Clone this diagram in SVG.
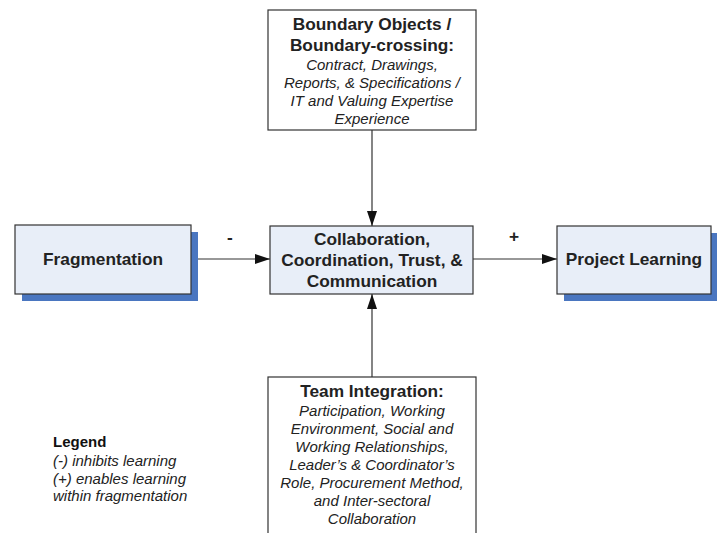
<svg xmlns="http://www.w3.org/2000/svg" width="720" height="533" viewBox="0 0 720 533">
<defs>
<marker id="ah" markerWidth="15" markerHeight="10" refX="15" refY="5" orient="auto" markerUnits="userSpaceOnUse">
<path d="M0,0 L15,5 L0,10 Z" fill="#111"/>
</marker>
<style>
.box{fill:#fff;stroke:#333;stroke-width:1.2}
.bluebox{fill:#e8eef8;stroke:#333;stroke-width:1.2}
.shadow{fill:#4a76c0}
.b{font-family:"Liberation Sans",Arial,sans-serif;font-weight:bold;font-size:17.3px;fill:#222;text-anchor:middle}
.i{font-family:"Liberation Sans",Arial,sans-serif;font-style:italic;font-size:15px;fill:#222;text-anchor:middle}
.lb{font-family:"Liberation Sans",Arial,sans-serif;font-weight:bold;font-size:15px;fill:#111}
.li{font-family:"Liberation Sans",Arial,sans-serif;font-style:italic;font-size:15px;fill:#222}
.c{stroke:#333;stroke-width:1.2;fill:none}
</style>
</defs>
<rect width="720" height="533" fill="#fff"/>
<g id="connectors">
<line class="c" x1="191" y1="259" x2="270" y2="259" marker-end="url(#ah)"/>
<line class="c" x1="473" y1="259" x2="557" y2="259" marker-end="url(#ah)"/>
<line class="c" x1="372" y1="130" x2="372" y2="226" marker-end="url(#ah)"/>
<line class="c" x1="372" y1="377" x2="372" y2="294" marker-end="url(#ah)"/>
<text class="b" x="230" y="243">-</text>
<text class="b" x="514" y="242">+</text>
</g>
<g id="boundary">
<rect class="box" x="268" y="10" width="208" height="120"/>
<text class="b" x="372" y="30">Boundary Objects /</text>
<text class="b" x="372" y="51">Boundary-crossing:</text>
<text class="i" x="372" y="70">Contract, Drawings,</text>
<text class="i" x="372" y="88">Reports, &amp; Specifications /</text>
<text class="i" x="372" y="106">IT and Valuing Expertise</text>
<text class="i" x="372" y="124">Experience</text>
</g>
<g id="fragmentation">
<rect class="shadow" x="22" y="232" width="176" height="69"/>
<rect class="bluebox" x="15" y="225" width="176" height="69"/>
<text class="b" x="103" y="265">Fragmentation</text>
</g>
<g id="collaboration">
<rect class="bluebox" x="270" y="226" width="203" height="68"/>
<text class="b" x="372" y="245">Collaboration,</text>
<text class="b" x="372" y="266">Coordination, Trust, &amp;</text>
<text class="b" x="372" y="287">Communication</text>
</g>
<g id="project">
<rect class="shadow" x="564" y="233" width="153" height="68"/>
<rect class="bluebox" x="557" y="226" width="154" height="68"/>
<text class="b" x="634" y="265">Project Learning</text>
</g>
<g id="team">
<rect class="box" x="268" y="377" width="208" height="170"/>
<text class="b" x="372" y="397">Team Integration:</text>
<text class="i" x="372" y="416">Participation, Working</text>
<text class="i" x="372" y="434">Environment, Social and</text>
<text class="i" x="372" y="452">Working Relationships,</text>
<text class="i" x="372" y="470">Leader’s &amp; Coordinator’s</text>
<text class="i" x="372" y="488">Role, Procurement Method,</text>
<text class="i" x="372" y="506">and Inter-sectoral</text>
<text class="i" x="372" y="524">Collaboration</text>
</g>
<g id="legend">
<text class="lb" x="53" y="447">Legend</text>
<text class="li" x="53" y="466">(-) inhibits learning</text>
<text class="li" x="53" y="484">(+) enables learning</text>
<text class="li" x="53" y="501">within fragmentation</text>
</g>
</svg>
